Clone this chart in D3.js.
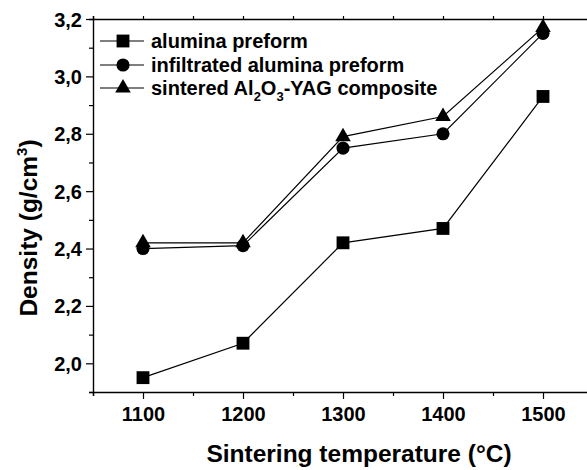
<!DOCTYPE html>
<html>
<head>
<meta charset="utf-8">
<script src="https://cdn.jsdelivr.net/npm/d3@7"></script>
<style>
  body { margin: 0; background: #fff; }
  svg text { font-family: Arial, "Liberation Sans", sans-serif; font-weight: bold; fill: #000; }
</style>
</head>
<body>
<svg id="chart" width="587" height="470"></svg>
<script>
// data
const temperatures = [1100, 1200, 1300, 1400, 1500];
const aluminaPreform = [1.95, 2.07, 2.42, 2.47, 2.93];
const infiltratedPreform = [2.40, 2.41, 2.75, 2.80, 3.15];
const sinteredComposite = [2.42, 2.42, 2.79, 2.86, 3.17];
const xTicks = [1100, 1200, 1300, 1400, 1500];
const yTicks = [2.0, 2.2, 2.4, 2.6, 2.8, 3.0, 3.2];

const series = [
    { name: 'alumina preform', values: aluminaPreform, symbol: d3.symbolSquare, size: 165 },
    { name: 'infiltrated alumina preform', values: infiltratedPreform, symbol: d3.symbolCircle, size: 135 },
    { name: 'sintered', values: sinteredComposite, symbol: d3.symbolTriangle, size: 105 }
];

const svg = d3.select('#chart');
const plotLeft = 93, plotTop = 19, plotBottom = 392;

const x = d3.scaleLinear().domain([1050, 1610]).range([plotLeft, plotLeft + 560]);
const y = d3.scaleLinear().domain([1.9, 3.2]).range([plotBottom, plotTop]);

const fmt = (d) => d3.format('.1f')(d).replace('.', ',');

// axes
const minorX = d3.range(1050, 1600, 50);
const minorY = d3.range(1.9, 3.21, 0.1);

const gx = svg.append('g').attr('transform', 'translate(0,' + plotBottom + ')');
gx.call(d3.axisBottom(x).tickValues(minorX).tickSize(4).tickFormat(''));
gx.selectAll('.tick').filter(d => xTicks.includes(d)).select('line').attr('y2', 7);
gx.selectAll('.tick').filter(d => xTicks.includes(d)).append('text')
    .attr('y', 29).attr('text-anchor', 'middle')
    .style('font-size', '20px').text(d => d);

const gxTop = svg.append('g').attr('transform', 'translate(0,' + plotTop + ')');
gxTop.call(d3.axisTop(x).tickValues(minorX).tickSize(3).tickFormat(''));

const gy = svg.append('g').attr('transform', 'translate(' + plotLeft + ',0)');
gy.call(d3.axisLeft(y).tickValues(minorY).tickSize(4).tickFormat(''));
gy.selectAll('.tick').filter(d => yTicks.some(t => Math.abs(t - d) < 1e-6)).select('line').attr('x2', -7);
gy.selectAll('.tick').filter(d => yTicks.some(t => Math.abs(t - d) < 1e-6)).append('text')
    .attr('x', -11).attr('dy', '0.35em').attr('text-anchor', 'end')
    .style('font-size', '20px').text(d => fmt(d));

svg.selectAll('.domain').attr('stroke', '#000').attr('stroke-width', 1.4);
svg.selectAll('.tick line').attr('stroke', '#000').attr('stroke-width', 1.2);

// series
const line = d3.line().x((d, i) => x(temperatures[i])).y(d => y(d));
series.forEach((s) => {
    svg.append('path')
        .datum(s.values)
        .attr('d', line)
        .attr('fill', 'none')
        .attr('stroke', '#000')
        .attr('stroke-width', 1.2);
});
series.forEach((s) => {
    svg.append('g').selectAll('path')
        .data(s.values)
        .enter()
        .append('path')
        .attr('d', d3.symbol().type(s.symbol).size(s.size))
        .attr('transform', (d, i) => 'translate(' + x(temperatures[i]) + ',' + y(d) + ')')
        .attr('fill', '#000');
});

// legend
const legend = svg.append('g');
const rowsY = [41, 65, 88];
series.forEach((s, i) => {
    legend.append('line')
        .attr('x1', 100).attr('x2', 144)
        .attr('y1', rowsY[i]).attr('y2', rowsY[i])
        .attr('stroke', '#000').attr('stroke-width', 1.2);
    legend.append('path')
        .attr('d', d3.symbol().type(s.symbol).size(s.size))
        .attr('transform', 'translate(123,' + rowsY[i] + ')')
        .attr('fill', '#000');
});
legend.append('text').attr('x', 151).attr('y', rowsY[0] + 7).style('font-size', '20px').text('alumina preform');
legend.append('text').attr('x', 151).attr('y', rowsY[1] + 7).style('font-size', '20px').text('infiltrated alumina preform');
const t3 = legend.append('text').attr('x', 151).attr('y', rowsY[2] + 7).style('font-size', '20px');
t3.append('tspan').text('sintered Al');
t3.append('tspan').attr('dy', 6).style('font-size', '13px').text('2');
t3.append('tspan').attr('dy', -6).text('O');
t3.append('tspan').attr('dy', 6).style('font-size', '13px').text('3');
t3.append('tspan').attr('dy', -6).text('-YAG composite');

// axis titles
svg.append('text')
    .attr('x', 359).attr('y', 462)
    .attr('text-anchor', 'middle')
    .style('font-size', '24.5px')
    .text('Sintering temperature (°C)');

const yt = svg.append('text')
    .attr('transform', 'translate(37,228) rotate(-90)')
    .attr('text-anchor', 'middle')
    .style('font-size', '24.5px');
yt.append('tspan').text('Density (g/cm');
yt.append('tspan').attr('dy', -10).style('font-size', '15px').text('3');
yt.append('tspan').attr('dy', 10).text(')');
</script>
</body>
</html>
